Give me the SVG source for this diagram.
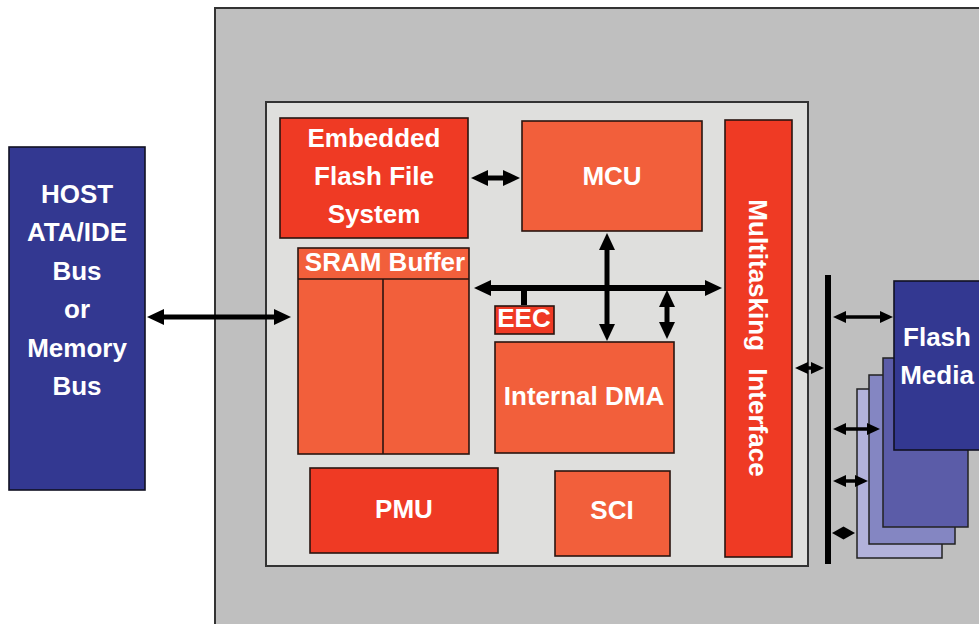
<svg xmlns="http://www.w3.org/2000/svg" width="979" height="624" viewBox="0 0 979 624">
<style>
  .t { font-family: "Liberation Sans", Arial, sans-serif; font-weight: bold; font-size: 26px; fill: #ffffff; text-anchor: middle; }
  .red { fill: #EF3A24; stroke: #2a1410; stroke-width: 1.6; }
  .org { fill: #F25F3B; stroke: #2a1410; stroke-width: 1.6; }
  .blue { fill: #333891; stroke: #111122; stroke-width: 1.6; }
  .ln { stroke: #000; fill: none; }
</style>
<defs>
  <marker id="ah" viewBox="0 0 17 16" refX="2" refY="8" markerWidth="17" markerHeight="16" markerUnits="userSpaceOnUse" orient="auto-start-reverse">
    <path d="M0,0 L17,8 L0,16 z" fill="#000"/>
  </marker>
  <marker id="as" viewBox="0 0 13 12" refX="2" refY="6" markerWidth="13" markerHeight="12" markerUnits="userSpaceOnUse" orient="auto-start-reverse">
    <path d="M0,0 L13,6 L0,12 z" fill="#000"/>
  </marker>
</defs>
<rect x="0" y="0" width="979" height="624" fill="#ffffff"/>
<g id="outer-panel"><rect x="215" y="8" width="800" height="700" fill="#BFBFBF" stroke="#333" stroke-width="2"/></g>
<g id="inner-panel"><rect x="266" y="102" width="542" height="464" fill="#DFDFDD" stroke="#333" stroke-width="2"/></g>

<g id="host">
  <rect class="blue" x="9" y="147" width="136" height="343"/>
  <text class="t" x="77" y="203">HOST</text>
  <text class="t" x="77" y="241">ATA/IDE</text>
  <text class="t" x="77" y="280">Bus</text>
  <text class="t" x="77" y="318">or</text>
  <text class="t" x="77" y="357">Memory</text>
  <text class="t" x="77" y="395">Bus</text>
</g>

<g id="effs">
  <rect class="red" x="280" y="118" width="188" height="120"/>
  <text class="t" x="374" y="147">Embedded</text>
  <text class="t" x="374" y="185">Flash File</text>
  <text class="t" x="374" y="223">System</text>
</g>

<g id="mcu">
  <rect class="org" x="522" y="121" width="180" height="110"/>
  <text class="t" x="612" y="185">MCU</text>
</g>

<g id="sram">
  <rect class="org" x="298" y="248" width="171" height="206"/>
  <line x1="298" y1="279" x2="469" y2="279" stroke="#2a1410" stroke-width="1.6"/>
  <line x1="383" y1="279" x2="383" y2="454" stroke="#2a1410" stroke-width="1.6"/>
  <text class="t" x="385" y="271">SRAM Buffer</text>
</g>

<g id="eec">
  <rect class="red" x="495" y="306" width="59" height="28"/>
  <text class="t" x="524" y="327">EEC</text>
</g>

<g id="dma">
  <rect class="org" x="495" y="342" width="179" height="111"/>
  <text class="t" x="584" y="405">Internal DMA</text>
</g>

<g id="pmu">
  <rect class="red" x="310" y="468" width="188" height="85"/>
  <text class="t" x="404" y="518">PMU</text>
</g>

<g id="sci">
  <rect class="org" x="555" y="471" width="115" height="85"/>
  <text class="t" x="612" y="519">SCI</text>
</g>

<g id="multitasking">
  <rect class="red" x="725" y="120" width="67" height="437"/>
  <text class="t" transform="translate(758,338) rotate(90)" x="0" y="9" word-spacing="10">Multitasking Interface</text>
</g>

<g id="flash-media">
  <rect x="857" y="389" width="85" height="169" fill="#B2B2DB" stroke="#222" stroke-width="1.5"/>
  <rect x="869" y="375" width="86" height="169" fill="#8486C2" stroke="#222" stroke-width="1.5"/>
  <rect x="883" y="358" width="85" height="169" fill="#5B5CA8" stroke="#222" stroke-width="1.5"/>
  <rect class="blue" x="894" y="281" width="100" height="169"/>
  <text class="t" x="937" y="346">Flash</text>
  <text class="t" x="937" y="384">Media</text>
</g>

<g id="connectors">
  <line class="ln" x1="162" y1="317" x2="276" y2="317" stroke-width="5" marker-start="url(#ah)" marker-end="url(#ah)"/>
  <line class="ln" x1="486" y1="178" x2="505" y2="178" stroke-width="5" marker-start="url(#ah)" marker-end="url(#ah)"/>
  <line class="ln" x1="489" y1="288" x2="707" y2="288" stroke-width="6" marker-start="url(#ah)" marker-end="url(#ah)"/>
  <rect x="521" y="288" width="6" height="17" fill="#000"/>
  <line class="ln" x1="607" y1="248" x2="607" y2="326" stroke-width="5" marker-start="url(#ah)" marker-end="url(#ah)"/>
  <line class="ln" x1="667" y1="305" x2="667" y2="324" stroke-width="5" marker-start="url(#ah)" marker-end="url(#ah)"/>
  <rect x="825" y="275" width="6" height="289" fill="#000"/>
  <line class="ln" x1="806" y1="368" x2="813" y2="368" stroke-width="3.5" marker-start="url(#as)" marker-end="url(#as)"/>
  <line class="ln" x1="844" y1="317" x2="882" y2="317" stroke-width="3.5" marker-start="url(#as)" marker-end="url(#as)"/>
  <line class="ln" x1="844" y1="429" x2="869" y2="429" stroke-width="3.5" marker-start="url(#as)" marker-end="url(#as)"/>
  <line class="ln" x1="844" y1="481" x2="857" y2="481" stroke-width="3.5" marker-start="url(#as)" marker-end="url(#as)"/>
  <polygon points="832,533 843.5,526.5 855,533 843.5,539.5" fill="#000"/>
</g>
</svg>
